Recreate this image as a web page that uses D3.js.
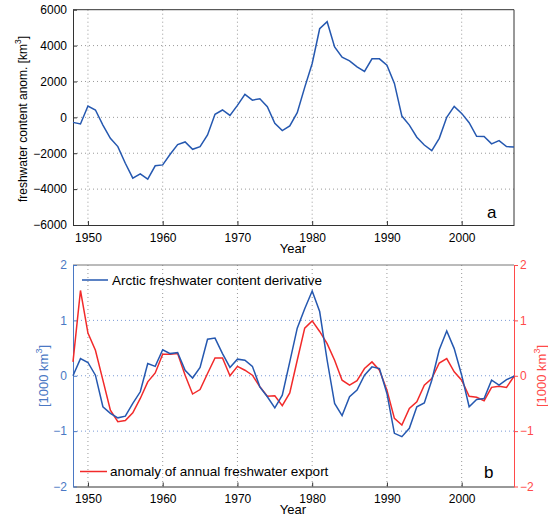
<!DOCTYPE html>
<html>
<head>
<meta charset="utf-8">
<script src="https://cdn.jsdelivr.net/npm/d3@7"></script>
<style>
  body { margin: 0; background: #fff; }
  text { font-family: "Liberation Sans", Arial, sans-serif; }
</style>
</head>
<body>
<div id="chart"></div>
<script>
// years 1948..2007
const years = d3.range(1948, 2008);
const xTicks = [1950, 1960, 1970, 1980, 1990, 2000];

// panel a: freshwater content anomaly [km^3]
const fwcAnom = [-280, -370, 630, 410, -430, -1170, -1630, -2560, -3390, -3150,
  -3440, -2700, -2650, -2060, -1520, -1370, -1780, -1630, -980, 170,
  410, 110, 670, 1280, 960, 1040, 590, -330, -740, -480,
  260, 1670, 3000, 4940, 5330, 3930, 3350, 3150, 2810, 2560,
  3260, 3260, 2910, 1890, 70, -430, -1110, -1540, -1850, -1170,
  0, 610, 220, -300, -1060, -1070, -1480, -1300, -1630, -1650];
const topTicks = [-6000, -4000, -2000, 0, 2000, 4000, 6000];

// panel b: derivative and export anomaly [1000 km^3]
const fwcDeriv = [0, 0.31, 0.24, 0.01, -0.56, -0.68, -0.76, -0.73, -0.50, -0.29,
  0.22, 0.17, 0.47, 0.40, 0.42, 0.10, -0.04, 0.15, 0.66, 0.68,
  0.40, 0.15, 0.30, 0.28, 0.17, -0.20, -0.38, -0.58, -0.35, 0.25,
  0.86, 1.21, 1.53, 1.16, 0.28, -0.50, -0.72, -0.38, -0.26, 0.01,
  0.16, 0.13, -0.32, -1.04, -1.10, -0.95, -0.56, -0.49, -0.08, 0.47,
  0.81, 0.49, 0.01, -0.56, -0.43, -0.41, -0.08, -0.17, -0.07, -0.01];
const exportAnom = [0.25, 1.54, 0.77, 0.46, -0.08, -0.62, -0.83, -0.81, -0.67, -0.41,
  -0.11, 0.05, 0.39, 0.39, 0.40, 0.01, -0.33, -0.25, 0.04, 0.32,
  0.32, 0, 0.17, 0.10, 0.01, -0.20, -0.37, -0.36, -0.54, -0.31,
  0.28, 0.86, 0.99, 0.80, 0.58, 0.28, -0.08, -0.17, -0.09, 0.13,
  0.25, 0.10, -0.26, -0.77, -0.89, -0.59, -0.47, -0.17, -0.05, 0.23,
  0.31, 0.07, -0.08, -0.37, -0.39, -0.45, -0.21, -0.19, -0.21, -0.01];
const botTicks = [-2, -1, 0, 1, 2];

const blue = "#2558b0", red = "#f22a2a";
const axBlue = "#4a78c4", axRed = "#ff4a4a";

const W = 548, H = 517;
const svg = d3.select("#chart").append("svg").attr("width", W).attr("height", H);

const x = d3.scaleLinear().domain([1948, 2007]).range([73, 514]);
const yTop = d3.scaleLinear().domain([-6000, 6000]).range([225, 9.7]);
const yBot = d3.scaleLinear().domain([-2, 2]).range([486.5, 265]);

const fmt = d => d < 0 ? "\u2212" + Math.abs(d) : String(d);

// ---------- panel a ----------
const gA = svg.append("g");
gA.selectAll(".vg").data(xTicks).enter().append("line")
  .attr("x1", d => x(d)).attr("x2", d => x(d)).attr("y1", yTop(6000)).attr("y2", yTop(-6000))
  .attr("stroke", "#999").attr("stroke-width", 1).attr("stroke-dasharray", "1,3");
gA.selectAll(".hg").data(topTicks.slice(1, -1)).enter().append("line")
  .attr("x1", x(1948)).attr("x2", x(2007)).attr("y1", d => yTop(d)).attr("y2", d => yTop(d))
  .attr("stroke", "#999").attr("stroke-width", 1).attr("stroke-dasharray", "1,3");

gA.append("g").attr("transform", `translate(0,${yTop(-6000)})`)
  .call(d3.axisBottom(x).tickValues(xTicks).tickFormat(d3.format("d")).tickSizeInner(-4).tickSizeOuter(0).tickPadding(8))
  .call(g => g.select(".domain").attr("stroke", "#333"))
  .call(g => g.selectAll("line").attr("stroke", "#333"))
  .call(g => g.selectAll("text").attr("font-size", 12).attr("fill", "#000"));
gA.append("g").attr("transform", `translate(${x(1948)},0)`)
  .call(d3.axisLeft(yTop).tickValues(topTicks).tickFormat(fmt).tickSizeInner(-4).tickSizeOuter(0).tickPadding(6))
  .call(g => g.select(".domain").attr("stroke", "#333"))
  .call(g => g.selectAll("line").attr("stroke", "#333"))
  .call(g => g.selectAll("text").attr("font-size", 12).attr("fill", "#000"));
gA.append("line").attr("x1", x(1948)).attr("x2", x(2007)).attr("y1", yTop(6000)).attr("y2", yTop(6000)).attr("stroke", "#333");
gA.append("line").attr("x1", x(2007)).attr("x2", x(2007)).attr("y1", yTop(6000)).attr("y2", yTop(-6000)).attr("stroke", "#333");

gA.append("path").datum(fwcAnom)
  .attr("d", d3.line().x((d, i) => x(years[i])).y(d => yTop(d)))
  .attr("fill", "none").attr("stroke", blue).attr("stroke-width", 1.5);

gA.append("text").attr("x", 293).attr("y", 253).attr("text-anchor", "middle").attr("font-size", 13).text("Year");
gA.append("text").attr("x", 487).attr("y", 218).attr("font-size", 17).text("a");
const ylA = gA.append("text").attr("transform", "translate(27,119) rotate(-90)")
  .attr("text-anchor", "middle").attr("font-size", 12);
ylA.append("tspan").text("freshwater content anom. [km");
ylA.append("tspan").attr("dy", -6).attr("font-size", 8.5).text("3");
ylA.append("tspan").attr("dy", 6).text("]");

// ---------- panel b ----------
const gB = svg.append("g");
gB.selectAll(".vg").data(xTicks).enter().append("line")
  .attr("x1", d => x(d)).attr("x2", d => x(d)).attr("y1", yBot(2)).attr("y2", yBot(-2))
  .attr("stroke", "#999").attr("stroke-width", 1).attr("stroke-dasharray", "1,3");
gB.selectAll(".hg").data([-1, 0, 1]).enter().append("line")
  .attr("x1", x(1948)).attr("x2", x(2007)).attr("y1", d => yBot(d)).attr("y2", d => yBot(d))
  .attr("stroke", "#7a9ad6").attr("stroke-width", 1).attr("stroke-dasharray", "1,3");

gB.append("g").attr("transform", `translate(0,${yBot(-2)})`)
  .call(d3.axisBottom(x).tickValues(xTicks).tickFormat(d3.format("d")).tickSizeInner(-4).tickSizeOuter(0).tickPadding(8))
  .call(g => g.select(".domain").attr("stroke", "#333"))
  .call(g => g.selectAll("line").attr("stroke", "#333"))
  .call(g => g.selectAll("text").attr("font-size", 12).attr("fill", "#000"));
gB.append("line").attr("x1", x(1948)).attr("x2", x(2007)).attr("y1", yBot(2)).attr("y2", yBot(2)).attr("stroke", "#777");
gB.append("g").attr("transform", `translate(${x(1948)},0)`)
  .call(d3.axisLeft(yBot).tickValues(botTicks).tickFormat(fmt).tickSizeInner(-4).tickSizeOuter(0).tickPadding(6))
  .call(g => g.select(".domain").attr("stroke", axBlue))
  .call(g => g.selectAll("line").attr("stroke", axBlue))
  .call(g => g.selectAll("text").attr("font-size", 12).attr("fill", axBlue));
gB.append("g").attr("transform", `translate(${x(2007)},0)`)
  .call(d3.axisRight(yBot).tickValues(botTicks).tickFormat(fmt).tickSizeInner(4).tickSizeOuter(0).tickPadding(2))
  .call(g => g.select(".domain").attr("stroke", axRed))
  .call(g => g.selectAll("line").attr("stroke", axRed))
  .call(g => g.selectAll("text").attr("font-size", 12).attr("fill", axRed));

const lineB = d3.line().x((d, i) => x(years[i])).y(d => yBot(d));
gB.append("path").datum(exportAnom).attr("d", lineB)
  .attr("fill", "none").attr("stroke", red).attr("stroke-width", 1.5);
gB.append("path").datum(fwcDeriv).attr("d", lineB)
  .attr("fill", "none").attr("stroke", blue).attr("stroke-width", 1.5);

// legend entries
gB.append("line").attr("x1", 82).attr("x2", 108).attr("y1", 280).attr("y2", 280).attr("stroke", blue).attr("stroke-width", 1.5);
gB.append("text").attr("x", 112).attr("y", 284.5).attr("font-size", 13.5).text("Arctic freshwater content derivative");
gB.append("line").attr("x1", 80).attr("x2", 107).attr("y1", 471.5).attr("y2", 471.5).attr("stroke", red).attr("stroke-width", 1.5);
gB.append("text").attr("x", 110).attr("y", 476).attr("font-size", 13.5).text("anomaly of annual freshwater export");

gB.append("text").attr("x", 293).attr("y", 514).attr("text-anchor", "middle").attr("font-size", 13).text("Year");
gB.append("text").attr("x", 484).attr("y", 478).attr("font-size", 17).text("b");

const ylB = gB.append("text").attr("transform", "translate(48,376) rotate(-90)")
  .attr("text-anchor", "middle").attr("font-size", 13).attr("fill", axBlue);
ylB.append("tspan").text("[1000 km");
ylB.append("tspan").attr("dy", -6).attr("font-size", 9).text("3");
ylB.append("tspan").attr("dy", 6).text("]");
const ylR = gB.append("text").attr("transform", "translate(546,376) rotate(-90)")
  .attr("text-anchor", "middle").attr("font-size", 13).attr("fill", axRed);
ylR.append("tspan").text("[1000 km");
ylR.append("tspan").attr("dy", -6).attr("font-size", 9).text("3");
ylR.append("tspan").attr("dy", 6).text("]");
</script>
</body>
</html>
